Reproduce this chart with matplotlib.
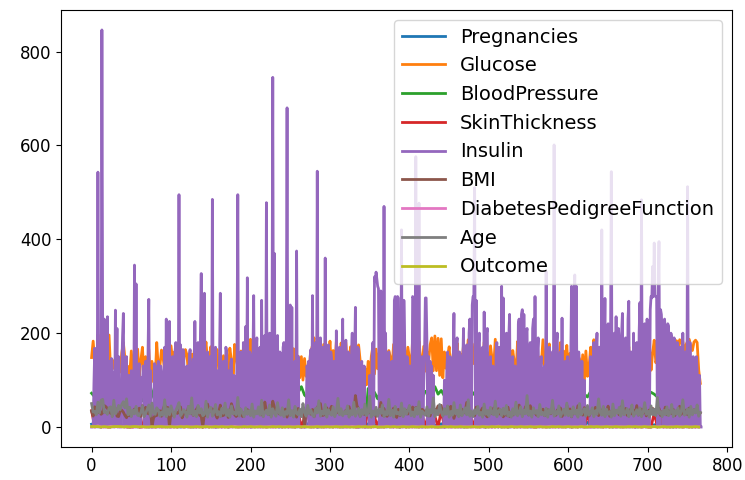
import numpy as np
import matplotlib
matplotlib.use("Agg")
import matplotlib.pyplot as plt

# Values.
# Insulin: one entry per row (768 rows)
insulin = [
    0, 0, 0, 94, 168, 0, 88, 0, 543, 0, 0, 0, 0, 846, 175, 0, 230, 0, 83, 96,
    235, 0, 140, 0, 0, 146, 110, 0, 115, 0, 249, 100, 210, 0, 150, 0, 88, 0, 125, 192,
    242, 0, 0, 140, 150, 0, 0, 110, 60, 0, 120, 100, 0, 0, 345, 0, 305, 0, 0, 125,
    135, 0, 0, 105, 90, 130, 70, 0, 140, 0, 94, 150, 272, 0, 120, 0, 0, 0, 0, 135,
    130, 0, 0, 120, 140, 0, 0, 130, 115, 0, 0, 100, 170, 0, 230, 0, 0, 190, 225, 0,
    0, 140, 150, 0, 0, 160, 180, 0, 0, 0, 495, 0, 175, 0, 0, 165, 155, 0, 0, 110,
    130, 0, 0, 150, 165, 0, 0, 120, 145, 0, 225, 0, 0, 140, 180, 0, 0, 200, 327, 0,
    0, 180, 285, 0, 0, 130, 160, 0, 0, 150, 135, 0, 485, 0, 0, 140, 170, 0, 0, 120,
    0, 150, 285, 0, 0, 130, 140, 0, 0, 170, 160, 0, 120, 0, 0, 135, 145, 0, 0, 110,
    105, 0, 0, 155, 495, 0, 0, 140, 160, 0, 0, 180, 130, 0, 214, 0, 318, 0, 0, 160,
    150, 0, 0, 140, 280, 0, 0, 160, 190, 0, 0, 150, 170, 0, 270, 0, 0, 180, 195, 0,
    478, 0, 0, 190, 200, 0, 0, 140, 745, 0, 370, 0, 0, 190, 195, 0, 0, 160, 150, 0,
    0, 170, 180, 0, 0, 150, 680, 0, 0, 160, 260, 0, 255, 0, 0, 130, 140, 0, 375, 0,
    150, 0, 0, 0, 0, 0, 0, 0, 0, 0, 0, 130, 120, 140, 0, 150, 165, 0, 280, 0,
    0, 160, 180, 0, 545, 0, 0, 140, 190, 0, 0, 170, 160, 0, 360, 0, 0, 150, 175, 0,
    0, 160, 145, 0, 0, 140, 130, 0, 205, 0, 0, 150, 170, 0, 0, 130, 230, 0, 0, 170,
    185, 0, 0, 160, 150, 0, 0, 150, 200, 0, 0, 140, 255, 0, 0, 170, 165, 0, 0, 120,
    140, 0, 0, 130, 0, 0, 0, 0, 0, 0, 110, 0, 0, 150, 180, 0, 320, 310, 330, 315,
    300, 295, 0, 0, 290, 0, 130, 0, 470, 0, 200, 0, 0, 120, 160, 0, 120, 0, 140, 0,
    0, 270, 278, 275, 0, 278, 275, 0, 0, 0, 420, 0, 0, 270, 180, 0, 0, 150, 140, 0,
    0, 130, 120, 0, 278, 275, 0, 0, 576, 0, 140, 0, 477, 0, 120, 0, 150, 0, 100, 160,
    275, 275, 180, 0, 150, 0, 140, 0, 130, 0, 110, 0, 0, 0, 0, 0, 0, 0, 0, 0,
    0, 0, 0, 0, 100, 0, 0, 120, 160, 0, 0, 150, 130, 0, 0, 140, 242, 0, 0, 170,
    190, 0, 0, 160, 150, 0, 0, 130, 210, 0, 0, 150, 175, 0, 0, 200, 230, 0, 0, 260,
    278, 275, 510, 0, 270, 0, 0, 180, 200, 0, 0, 150, 170, 0, 245, 0, 0, 200, 210, 0,
    0, 140, 150, 0, 0, 130, 120, 0, 0, 160, 180, 0, 0, 170, 160, 0, 300, 0, 275, 0,
    0, 170, 200, 0, 0, 190, 240, 0, 0, 120, 150, 0, 0, 130, 90, 0, 0, 220, 230, 0,
    0, 240, 250, 0, 240, 0, 0, 200, 210, 0, 0, 160, 180, 0, 0, 210, 230, 0, 278, 0,
    0, 160, 190, 0, 0, 140, 150, 0, 0, 120, 130, 0, 331, 0, 0, 150, 170, 0, 0, 130,
    160, 0, 601, 0, 0, 180, 200, 0, 0, 150, 160, 0, 232, 0, 0, 130, 140, 0, 0, 150,
    120, 0, 0, 150, 300, 0, 0, 180, 324, 0, 300, 0, 0, 160, 130, 0, 0, 140, 0, 0,
    100, 0, 0, 0, 0, 0, 0, 0, 150, 0, 0, 130, 180, 0, 0, 160, 200, 0, 0, 170,
    170, 0, 420, 0, 0, 160, 274, 0, 0, 180, 220, 0, 0, 170, 544, 0, 0, 190, 200, 0,
    235, 0, 0, 210, 180, 0, 0, 200, 242, 0, 0, 180, 190, 0, 0, 230, 268, 0, 0, 160,
    150, 0, 200, 0, 0, 170, 180, 0, 0, 200, 265, 0, 484, 0, 0, 210, 220, 0, 0, 230,
    190, 0, 0, 250, 278, 275, 342, 278, 392, 280, 278, 278, 0, 270, 395, 0, 250, 240, 200, 0,
    0, 230, 200, 0, 0, 220, 215, 0, 0, 200, 190, 0, 0, 190, 180, 0, 0, 180, 170, 0,
    0, 170, 160, 0, 200, 0, 0, 160, 150, 0, 512, 0, 0, 180, 100, 0, 0, 150, 130, 0,
    0, 150, 120, 0, 0, 110, 0, 0,
]

# Glucose, BMI, Age: one entry for every 2nd row
glucose = [
    148, 183, 137, 78, 197, 110, 139, 189, 118, 103, 126, 196, 119, 143, 125, 147, 97, 145, 117, 158,
    180, 146, 71, 129, 111, 162, 117, 152, 88, 166, 107, 142, 170, 100, 150, 90, 165, 95, 140, 96,
    100, 180, 125, 130, 164, 147, 120, 160, 95, 137, 173, 140, 160, 111, 145, 178, 122, 136, 143, 165,
    154, 112, 124, 155, 140, 177, 108, 168, 150, 127, 99, 159, 181, 138, 120, 171, 135, 123, 158, 165,
    122, 110, 129, 152, 131, 146, 115, 168, 141, 88, 176, 145, 128, 97, 162, 139, 106, 180, 124, 150,
    187, 121, 133, 160, 112, 150, 128, 173, 110, 155, 185, 129, 146, 162, 118, 181, 137, 113, 158, 134,
    147, 103, 170, 138, 125, 152, 116, 167, 132, 109, 151, 105, 150, 100, 146, 108, 120, 128, 161, 174,
    190, 135, 112, 168, 144, 121, 176, 104, 158, 139, 183, 117, 163, 128, 182, 145, 110, 179, 133, 157,
    180, 126, 142, 171, 118, 160, 137, 99, 175, 141, 132, 95, 125, 90, 140, 100, 150, 172, 113, 166,
    124, 158, 103, 181, 139, 116, 129, 163, 148, 120, 176, 107, 152, 134, 184, 125, 157, 111, 143, 170,
    146, 122, 188, 131, 165, 114, 183, 147, 127, 172, 119, 160, 136, 175, 190, 120, 194, 120, 189, 110,
    188, 105, 160, 125, 150, 171, 112, 144, 166, 130, 179, 109, 155, 138, 174, 121, 148, 186, 117, 162,
    135, 177, 142, 106, 168, 151, 123, 181, 134, 159, 118, 173, 145, 128, 187, 112, 156, 140, 165, 131,
    179, 116, 150, 170, 124, 163, 138, 108, 182, 147, 120, 158, 133, 175, 144, 119, 166, 139, 152, 127,
    171, 110, 149, 135, 186, 124, 160, 141, 177, 115, 153, 130, 168, 99, 145, 180, 121, 162, 137, 174,
    118, 157, 139, 184, 112, 148, 151, 145, 100, 154, 95, 162, 108, 129, 170, 150, 186, 133, 119, 160,
    143, 176, 114, 155, 167, 128, 181, 139, 122, 158, 146, 173, 110, 164, 136, 184, 125, 149, 171, 107,
    156, 140, 178, 129, 165, 117, 188, 146, 133, 160, 142, 173, 121, 158, 185, 137, 150, 169, 128, 178,
    183, 145, 180, 170, 181, 175, 178, 162, 184, 150, 186, 179, 182, 155, 175, 183, 187, 172, 163, 181,
    185, 180, 121, 93,
]

bmi = [
    33.6, 23.3, 43.1, 31.0, 30.5, 37.6, 27.1, 30.1, 45.8, 43.3, 39.3, 39.8, 29.0, 36.6, 31.1, 39.4, 23.2, 22.2, 34.1, 36.0,
    31.6, 24.8, 19.9, 27.6, 24.0, 33.2, 32.9, 38.2, 37.1, 34.0, 40.2, 22.7, 45.4, 27.4, 42.0, 29.7, 28.0, 39.1, 0.0, 19.4,
    24.2, 24.4, 33.7, 34.7, 23.0, 37.7, 46.8, 40.5, 41.5, 0.0, 32.9, 25.0, 25.4, 32.8, 29.0, 32.5, 42.7, 19.6, 28.9, 32.9,
    28.6, 43.4, 35.1, 32.0, 24.7, 32.6, 37.7, 43.2, 25.0, 22.4, 0.0, 29.3, 24.6, 48.8, 32.4, 36.6, 38.5, 37.1, 26.5, 19.1,
    32.0, 46.7, 23.8, 24.7, 33.9, 31.6, 20.4, 28.7, 49.7, 39.0, 26.1, 22.5, 26.6, 39.6, 28.7, 22.4, 29.5, 34.3, 37.4, 33.3,
    34.0, 31.2, 34.0, 30.5, 31.2, 34.0, 33.7, 28.2, 23.2, 53.2, 34.2, 33.6, 26.8, 33.3, 55.0, 42.9, 33.3, 34.5, 27.9, 29.7,
    33.3, 34.5, 38.3, 21.1, 33.8, 30.8, 28.7, 31.2, 36.9, 21.1, 39.5, 32.5, 32.4, 32.8, 0.0, 32.8, 30.5, 33.7, 27.3, 37.4,
    21.9, 34.3, 40.6, 47.9, 50.0, 24.6, 25.2, 29.0, 40.9, 29.7, 37.2, 44.2, 29.7, 31.6, 29.9, 32.5, 29.6, 31.9, 28.4, 30.8,
    35.4, 28.9, 43.5, 29.7, 32.7, 31.2, 67.1, 45.0, 39.1, 23.2, 34.9, 27.7, 26.8, 27.6, 35.9, 30.1, 32.0, 27.9, 31.6, 22.6,
    33.1, 30.4, 52.3, 24.4, 39.4, 24.3, 22.9, 34.8, 30.9, 31.0, 40.1, 27.3, 20.4, 37.7, 23.9, 37.5, 37.7, 33.2, 35.5, 27.7,
    42.8, 34.2, 42.6, 34.2, 41.8, 35.8, 30.0, 29.0, 37.8, 34.6, 31.6, 25.2, 28.8, 23.6, 34.6, 35.7, 37.2, 36.7, 45.2, 44.0,
    46.2, 25.4, 35.0, 29.7, 43.6, 35.9, 44.1, 30.8, 18.4, 29.2, 33.1, 25.6, 27.1, 38.2, 30.0, 31.2, 52.3, 35.4, 30.1, 31.2,
    28.0, 24.1, 42.4, 33.7, 30.2, 34.6, 40.6, 34.2, 25.6, 21.6, 34.0, 31.3, 28.4, 40.5, 38.6, 36.8, 39.0, 27.5, 33.9, 21.7,
    28.0, 25.0, 42.1, 22.5, 32.0, 25.3, 33.6, 29.3, 36.1, 46.8, 35.4, 25.6, 30.1, 43.3, 33.2, 25.9, 45.4, 36.5, 32.4, 30.0,
    25.1, 32.3, 37.5, 28.6, 38.0, 24.2, 26.5, 37.1, 30.9, 28.2, 43.4, 31.6, 24.8, 36.3, 32.7, 40.6, 22.5, 34.9, 27.2, 46.1,
    29.8, 38.5, 21.8, 34.7, 35.7, 27.6, 45.3, 30.4, 33.9, 25.4, 41.3, 28.9, 37.8, 23.5, 31.9, 35.2, 26.4, 42.0, 30.7, 24.3,
    36.9, 29.5, 40.9, 26.2, 33.2, 44.5, 23.1, 30.8, 38.7, 27.3, 35.0, 31.6, 25.9, 42.8, 34.1, 28.6, 39.5, 24.9, 32.6, 37.3,
    27.8, 35.6, 30.0, 45.7, 25.5, 33.4, 38.1, 29.1, 43.3, 23.8, 32.2, 36.5, 28.3, 40.0, 26.7, 34.4, 31.8, 39.9, 24.6, 33.0,
    30.4, 42.3, 26.0, 35.1, 31.5, 28.8, 37.6, 24.4, 34.3, 30.9, 44.2, 27.0, 33.8, 29.6, 36.2, 26.2, 40.4, 32.8, 30.1, 36.8,
    32.9, 36.5, 26.2, 30.1,
]

age = [
    50, 32, 33, 26, 53, 30, 57, 59, 31, 33, 27, 41, 43, 22, 57, 28, 35, 46, 37, 48,
    54, 41, 60, 26, 42, 22, 36, 28, 44, 25, 24, 31, 45, 22, 29, 38, 47, 23, 51, 30,
    27, 41, 36, 23, 32, 25, 58, 22, 39, 26, 45, 33, 21, 35, 43, 52, 24, 29, 37, 31,
    21, 44, 28, 62, 25, 34, 22, 46, 30, 39, 24, 27, 55, 21, 36, 42, 23, 31, 48, 26,
    33, 22, 40, 29, 51, 24, 37, 21, 45, 28, 32, 26, 63, 23, 38, 30, 22, 41, 27, 35,
    24, 49, 21, 34, 28, 43, 25, 57, 22, 31, 36, 26, 47, 21, 39, 29, 23, 52, 30, 25,
    41, 22, 33, 27, 58, 24, 35, 21, 44, 29, 26, 38, 22, 50, 31, 23, 46, 28, 36, 25,
    22, 40, 30, 56, 23, 34, 27, 48, 21, 37, 29, 25, 43, 22, 32, 61, 26, 39, 24, 33,
    28, 45, 21, 35, 26, 53, 23, 31, 40, 22, 37, 27, 49, 24, 30, 66, 21, 34, 25, 42,
    23, 38, 29, 47, 22, 33, 26, 59, 24, 36, 21, 44, 28, 31, 25, 51, 22, 39, 27, 35,
    46, 24, 32, 22, 41, 27, 54, 21, 34, 29, 25, 43, 23, 37, 30, 62, 22, 35, 26, 48,
    31, 23, 39, 27, 45, 21, 33, 25, 52, 28, 36, 22, 47, 24, 30, 41, 26, 58, 23, 34,
    22, 37, 28, 44, 25, 31, 21, 49, 27, 35, 23, 42, 29, 26, 55, 22, 33, 38, 24, 40,
    27, 46, 23, 32, 21, 39, 26, 53, 24, 30, 43, 22, 36, 28, 67, 25, 34, 21, 41, 29,
    35, 22, 48, 26, 31, 24, 40, 21, 37, 29, 57, 23, 33, 27, 45, 22, 30, 38, 25, 51,
    24, 34, 22, 43, 28, 36, 21, 50, 26, 32, 39, 23, 46, 25, 29, 41, 22, 35, 27, 60,
    31, 25, 44, 22, 38, 27, 33, 21, 49, 24, 36, 29, 42, 23, 56, 26, 30, 39, 22, 34,
    47, 23, 29, 37, 25, 41, 22, 31, 52, 27, 34, 21, 45, 26, 38, 24, 63, 28, 33, 22,
    36, 26, 43, 24, 30, 48, 22, 35, 27, 41, 23, 33, 58, 25, 29, 39, 21, 44, 26, 37,
    30, 47, 23, 31,
]

# Mostly hidden behind Insulin, so one entry for every 4th row
pregnancies = [
    6, 8, 5, 10, 4, 1, 3, 7, 1, 5, 1, 3, 0, 2, 7, 0, 4, 1, 0, 2,
    1, 8, 3, 6, 2, 13, 9, 5, 0, 4, 1, 2, 0, 10, 7, 1, 3, 6, 2, 0,
    1, 11, 4, 0, 9, 3, 1, 2, 7, 5, 0, 1, 3, 8, 2, 12, 4, 1, 6, 0,
    2, 3, 1, 9, 0, 5, 2, 1, 7, 4, 3, 0, 1, 6, 2, 10, 1, 3, 5, 0,
    4, 1, 8, 2, 0, 3, 1, 7, 2, 5, 0, 1, 9, 3, 2, 6, 1, 0, 4, 2,
    11, 1, 3, 5, 0, 2, 8, 1, 4, 2, 7, 0, 3, 1, 6, 2, 10, 0, 1, 5,
    3, 2, 9, 1, 0, 4, 6, 1, 2, 8, 3, 0, 1, 5, 2, 12, 1, 4, 0, 7,
    2, 3, 1, 6, 0, 2, 9, 4, 1, 3, 5, 0, 2, 7, 1, 4, 10, 2, 0, 3,
    1, 6, 2, 8, 0, 3, 1, 5, 2, 11, 4, 0, 1, 7, 3, 2,
    0, 5, 2, 9, 1, 3, 6, 0, 2, 4, 1, 8, 3, 0, 5, 1,
]

blood_pressure = [
    72, 64, 40, 0, 70, 92, 80, 60, 84, 74, 30, 88, 84, 70, 54, 78, 56, 66, 50, 66,
    90, 68, 62, 70, 78, 60, 64, 74, 52, 70, 76, 58, 82, 72, 68, 0, 80, 62, 74, 66,
    62, 86, 70, 76, 58, 64, 88, 70, 74, 68, 80, 72, 66, 82, 60, 78, 70, 64, 76, 72,
    64, 72, 70, 84, 56, 74, 86, 68, 62, 80, 72, 76, 66, 60, 90, 70, 78, 64, 74, 68,
    80, 70, 62, 76, 68, 72, 0, 82, 66, 74, 60, 78, 88, 70, 64, 72, 76, 80, 66, 58,
    74, 68, 82, 70, 62, 76, 72, 64, 86, 70, 78, 66, 74, 60, 84, 70, 72, 68, 76, 64,
    70, 78, 66, 74, 60, 82, 72, 68, 76, 0, 86, 64, 70, 74, 62, 80, 68, 72, 76, 66,
    72, 64, 80, 70, 76, 62, 88, 68, 74, 70, 58, 78, 72, 66, 84, 70, 64, 76, 68, 74,
    60, 82, 70, 66, 76, 72, 64, 80, 74, 68, 70, 78, 62, 72, 86, 66,
    74, 70, 64, 82, 68, 76, 70, 62, 80, 72, 66, 74, 70, 78, 64, 70,
]

skin_thickness = [
    35, 0, 35, 0, 45, 0, 0, 23, 47, 38, 41, 0, 0, 0, 35, 0, 0, 33, 26, 15,
    0, 19, 0, 36, 11, 0, 31, 0, 25, 0, 37, 0, 18, 0, 24, 0, 39, 0, 27, 0,
    32, 0, 21, 0, 29, 42, 0, 16, 0, 28, 0, 34, 22, 0, 40, 0, 26, 0, 17, 30,
    0, 23, 0, 44, 0, 31, 0, 20, 27, 0, 36, 0, 14, 0, 29, 33, 0, 25, 0, 41,
    0, 19, 32, 0, 0, 28, 0, 37, 0, 22, 0, 30, 0, 46, 18, 0, 27, 0, 34, 0,
    21, 0, 39, 0, 26, 0, 31, 0, 23, 0, 35, 0, 17, 0, 28, 42, 0, 20, 0, 33,
    0, 25, 0, 38, 0, 19, 0, 30, 0, 27, 44, 0, 22, 0, 32, 0, 24, 0, 36, 0,
    0, 29, 18, 0, 41, 0, 99, 0, 26, 0, 33, 0, 21, 0, 37, 0, 28, 0, 25, 0,
    40, 0, 23, 0, 31, 0, 19, 0, 34, 0, 27, 0, 45, 0, 22, 0,
    0, 30, 0, 26, 0, 35, 0, 20, 0, 32, 0, 28, 0, 39, 0, 31,
]

pedigree = [
    0.63, 0.67, 2.29, 0.25, 0.16, 0.19, 1.44, 0.59, 0.55, 0.18, 0.70, 0.45, 0.26, 0.14, 0.59, 0.56, 0.23, 0.26, 0.30, 0.50,
    0.35, 0.43, 0.41, 0.32, 0.73, 0.26, 0.29, 0.72, 0.89, 0.59, 0.42, 0.30, 0.17, 0.27, 0.36, 0.51, 0.26, 0.89, 0.49, 0.24,
    0.58, 0.34, 0.45, 0.64, 0.22, 1.39, 0.37, 0.26, 0.18, 0.64, 0.52, 0.28, 0.79, 0.19, 0.43, 0.33, 0.96, 0.21, 0.61, 0.27,
    0.39, 0.74, 0.15, 0.55, 0.31, 0.87, 0.24, 0.46, 1.10, 0.20, 0.35, 0.68, 0.29, 0.52, 0.17, 0.40, 0.83, 0.26, 0.57, 0.33,
    0.48, 0.21, 1.22, 0.37, 0.25, 0.62, 0.44, 0.19, 0.71, 0.30, 0.53, 0.16, 0.38, 0.92, 0.27, 0.46, 0.22, 0.66, 0.34, 0.58,
    0.23, 0.49, 0.81, 0.28, 0.41, 0.18, 0.60, 1.32, 0.36, 0.25, 0.54, 0.31, 0.77, 0.20, 0.45, 0.39, 0.14, 0.69, 0.33, 0.51,
    0.26, 0.63, 0.42, 0.19, 0.86, 0.35, 0.24, 0.57, 1.78, 0.30, 0.47, 0.22, 0.65, 0.38, 0.17, 0.52, 0.29, 0.74, 0.40, 0.23,
    0.61, 0.32, 0.48, 0.21, 0.99, 0.27, 0.55, 0.36, 0.18, 0.70, 0.43, 0.25, 0.59, 0.34, 1.15, 0.28, 0.46, 0.20, 0.67, 0.37,
    0.24, 0.53, 0.31, 0.80, 0.42, 0.19, 0.58, 0.35, 0.26, 0.72, 0.45, 0.22, 0.64, 0.30, 0.50, 0.17,
    0.39, 0.61, 0.27, 0.84, 0.33, 0.21, 0.56, 0.44, 0.29, 0.68, 0.25, 0.47, 0.34, 0.19, 0.35, 0.32,
]

outcome = [
    1, 1, 1, 0, 1, 0, 0, 1, 1, 1, 0, 1, 0, 1, 1, 0, 1, 0, 0, 1,
    0, 1, 1, 0, 0, 1, 0, 0, 1, 0, 1, 0, 0, 1, 0, 0, 1, 0, 0, 1,
    0, 1, 0, 0, 1, 0, 0, 0, 1, 0, 1, 0, 0, 1, 0, 0, 0, 1, 0, 1,
    0, 0, 1, 0, 0, 1, 0, 1, 0, 0, 0, 1, 0, 0, 1, 0, 0, 1, 0, 0,
    1, 0, 0, 0, 1, 0, 1, 0, 0, 1, 0, 0, 0, 1, 0, 1, 0, 0, 1, 0,
    0, 1, 0, 0, 1, 0, 0, 1, 0, 0, 0, 1, 0, 1, 0, 0, 1, 0, 0, 0,
    1, 0, 0, 1, 0, 0, 1, 0, 1, 0, 0, 0, 1, 0, 0, 1, 0, 0, 1, 0,
    0, 1, 0, 0, 0, 1, 0, 1, 0, 0, 1, 0, 0, 0, 1, 0, 0, 1, 0, 1,
    0, 0, 1, 0, 0, 1, 0, 0, 0, 1, 0, 1, 0, 0, 1, 0,
    0, 1, 0, 0, 1, 0, 0, 0, 1, 0, 0, 1, 0, 0, 1, 0,
]

# same column order as the dataframe, (name, values, row step)
columns = [
    ("Pregnancies", pregnancies, 4),
    ("Glucose", glucose, 2),
    ("BloodPressure", blood_pressure, 4),
    ("SkinThickness", skin_thickness, 4),
    ("Insulin", insulin, 1),
    ("BMI", bmi, 2),
    ("DiabetesPedigreeFunction", pedigree, 4),
    ("Age", age, 2),
    ("Outcome", outcome, 4),
]

plt.rcParams["font.size"] = 12

fig = plt.figure(figsize=(7.45, 4.8), dpi=100)
ax = fig.add_axes([0.082, 0.069, 0.900, 0.91])

for name, values, step in columns:
    rows = np.arange(len(values)) * step
    ax.plot(rows, values, label=name, linewidth=2.0)

ax.set_xticks(range(0, 801, 100))
ax.set_yticks(range(0, 801, 200))
ax.legend(loc="upper right", fontsize=14, handlelength=2.2)

fig.savefig("out.png", dpi=100)
